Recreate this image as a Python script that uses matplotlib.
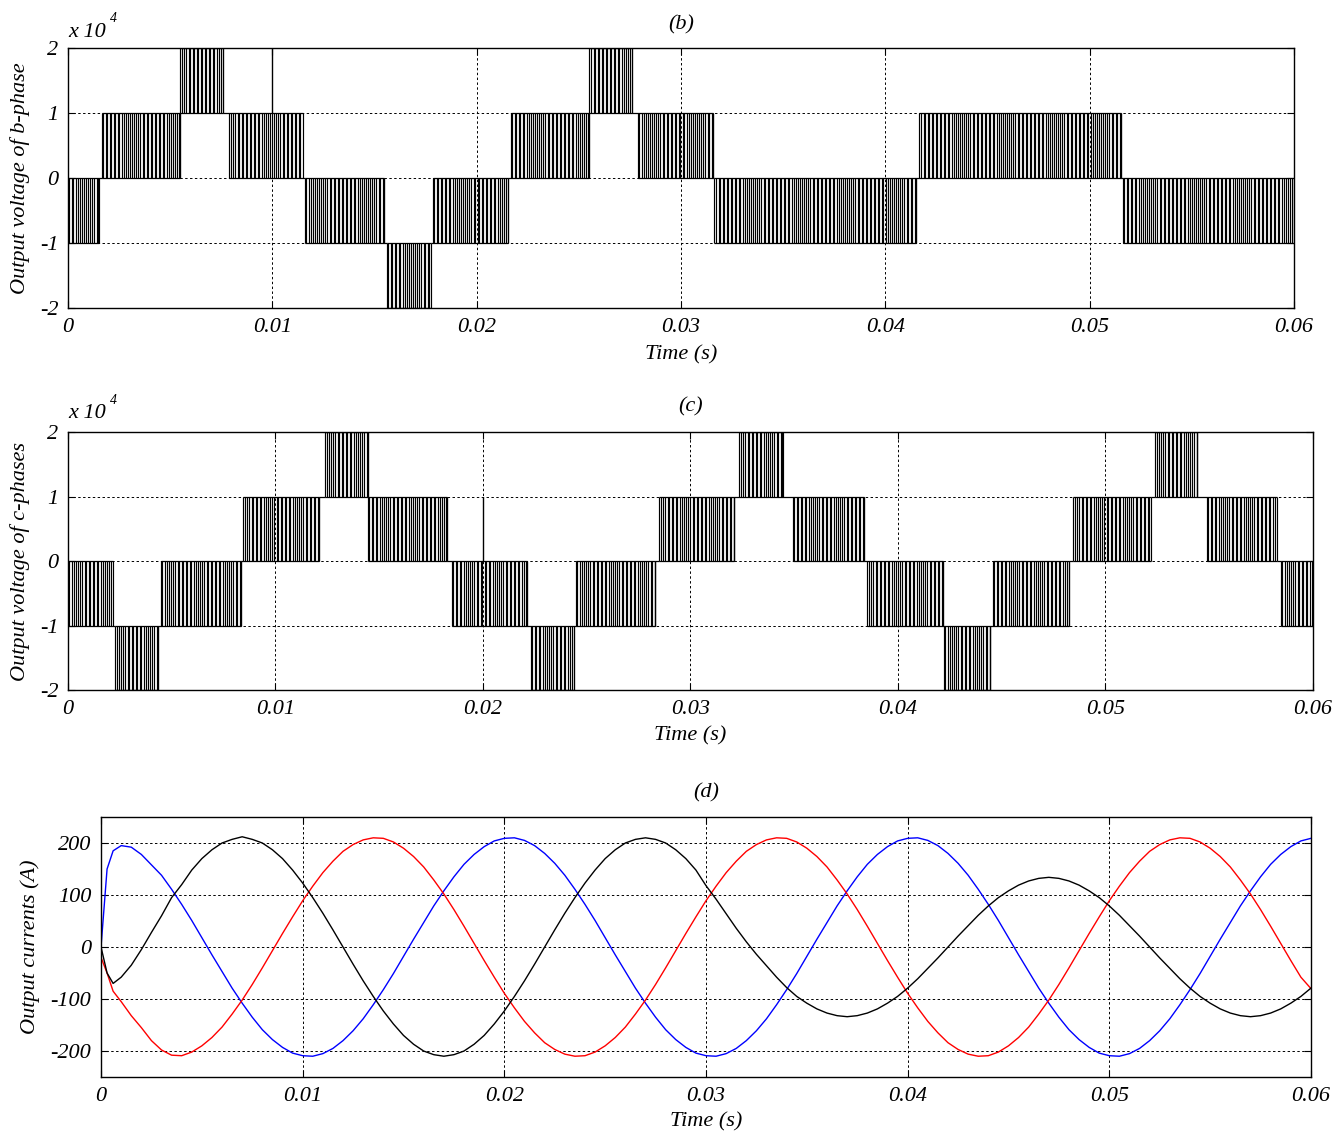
import numpy as np
import matplotlib
matplotlib.use('Agg')
import matplotlib.pyplot as plt

plt.rcParams['font.family'] = 'Liberation Serif'
plt.rcParams['font.style'] = 'italic'
plt.rcParams['font.size'] = 16

# voltage levels of the cascaded inverter (V)
# bands: (start time, end time, low level, high level) where the output switches
b_bands = [(0.0, 0.0015, -10000, 0), (0.00165, 0.0055, 0, 10000), (0.0055, 0.0076, 10000, 20000),
           (0.0079, 0.0115, 0, 10000), (0.0116, 0.01548, -10000, 0), (0.0156, 0.01777, -20000, -10000),
           (0.01785, 0.02155, -10000, 0), (0.02167, 0.02552, 0, 10000), (0.02552, 0.02759, 10000, 20000),
           (0.0279, 0.03155, 0, 10000), (0.03164, 0.04149, -10000, 0), (0.04167, 0.05153, 0, 10000),
           (0.05162, 0.06, -10000, 0)]
b_spikes = [(0.00997, 10000, 20000)]

c_bands = [(0.0, 0.00215, -10000, 0), (0.00227, 0.00435, -20000, -10000), (0.00448, 0.00832, -10000, 0),
           (0.00845, 0.01211, 0, 10000), (0.01239, 0.01444, 10000, 20000), (0.01444, 0.01828, 0, 10000),
           (0.01849, 0.02214, -10000, 0), (0.0223, 0.02439, -20000, -10000), (0.02448, 0.02829, -10000, 0),
           (0.0285, 0.03211, 0, 10000), (0.03235, 0.03444, 10000, 20000), (0.03492, 0.03836, 0, 10000),
           (0.03852, 0.04215, -10000, 0), (0.04222, 0.04443, -20000, -10000), (0.04456, 0.04826, -10000, 0),
           (0.04845, 0.05218, 0, 10000), (0.05239, 0.05442, 10000, 20000), (0.05488, 0.05828, 0, 10000),
           (0.05846, 0.06, -10000, 0)]
c_spikes = [(0.0200, 0, 10000)]

carrier_period = 0.0002
pulse_width = 0.00007

# output currents (A), sampled every 0.5 ms (plus the start-up transient)
t_cur = [0.0, 0.0003, 0.0006] + [k / 2000 for k in range(2, 121)]
i_red = [-20, -50, -85,
         -105, -132, -155, -180, -198, -208, -209, -202, -190, -174, -154, -129, -102, -72, -40, -7, 26, 58,
         89, 117, 143, 165, 184, 197, 206, 210, 209, 202, 190, 174, 154, 129, 102, 72, 40, 7, -26, -58,
         -89, -117, -143, -165, -184, -197, -206, -210, -209, -202, -190, -174, -154, -129, -102, -72, -40, -7, 26, 58,
         89, 117, 143, 165, 184, 197, 206, 210, 209, 202, 190, 174, 154, 129, 102, 72, 40, 7, -26, -58,
         -89, -117, -143, -165, -184, -197, -206, -210, -209, -202, -190, -174, -154, -129, -102, -72, -40, -7, 26, 58,
         89, 117, 143, 165, 184, 197, 206, 210, 209, 202, 190, 174, 154, 129, 102, 72, 40, 7, -26, -58,
         -80]
i_blue = [0, 150, 185,
          195, 192, 178, 158, 138, 111, 82, 51, 18, -15, -47, -79, -108, -135, -159, -178, -193, -204,
          -209, -210, -205, -195, -180, -161, -138, -111, -82, -51, -18, 15, 47, 79, 108, 135, 159, 178, 193, 204,
          209, 210, 205, 195, 180, 161, 138, 111, 82, 51, 18, -15, -47, -79, -108, -135, -159, -178, -193, -204,
          -209, -210, -205, -195, -180, -161, -138, -111, -82, -51, -18, 15, 47, 79, 108, 135, 159, 178, 193, 204,
          209, 210, 205, 195, 180, 161, 138, 111, 82, 51, 18, -15, -47, -79, -108, -135, -159, -178, -193, -204,
          -209, -210, -205, -195, -180, -161, -138, -111, -82, -51, -18, 15, 47, 79, 108, 135, 159, 178, 193, 204,
          209]
i_black = [0, -50, -70,
           -58, -35, -5, 28, 60, 95, 120, 148, 170, 187, 200, 207, 212, 207, 200, 187, 170, 148,
           123, 95, 65, 33, 0, -33, -65, -95, -123, -148, -170, -187, -200, -207, -210, -207, -200, -187, -170, -148,
           -123, -95, -65, -33, 0, 33, 65, 95, 123, 148, 170, 187, 200, 207, 210, 207, 200, 187, 170, 148,
           118, 92, 64, 36, 10, -14, -36, -58, -78, -95, -108, -119, -127, -132, -134, -132, -127, -119, -108, -95,
           -79, -61, -41, -21, 0, 21, 41, 61, 79, 95, 108, 119, 127, 132, 134, 132, 127, 119, 108, 95,
           79, 61, 41, 21, 0, -21, -41, -61, -79, -95, -108, -119, -127, -132, -134, -132, -127, -119, -108, -95,
           -79]

x_ticks = [0, 0.01, 0.02, 0.03, 0.04, 0.05, 0.06]
x_labels = ['0', '0.01', '0.02', '0.03', '0.04', '0.05', '0.06']
v_ticks = [-20000, -10000, 0, 10000, 20000]
v_labels = ['-2', '-1', '0', '1', '2']
i_ticks = [-200, -100, 0, 100, 200]
i_labels = ['-200', '-100', '0', '100', '200']


def draw_pwm(ax, bands, spikes):
    for k, (s, e, lo, hi) in enumerate(bands):
        starts = np.arange(s, e - 1e-9, carrier_period)
        edges = np.concatenate([starts, np.minimum(starts + pulse_width, e), [e]])
        ax.vlines(edges, lo, hi, color='k', lw=0.85)
        ax.hlines([lo, hi], s, e, color='k', lw=0.9)
        if k + 1 < len(bands):
            ns, ne, nlo, nhi = bands[k + 1]
            level = ({lo, hi} & {nlo, nhi}).pop()
            ax.hlines(level, e, ns, color='k', lw=0.9)
    for t, lo, hi in spikes:
        ax.vlines(t, lo, hi, color='k', lw=1.0)


def style(ax, yticks, ylabels, ylim):
    ax.set_xlim(0, 0.06)
    ax.set_ylim(*ylim)
    ax.set_xticks(x_ticks)
    ax.set_xticklabels(x_labels)
    ax.set_yticks(yticks)
    ax.set_yticklabels(ylabels)
    ax.tick_params(direction='in', top=True, right=True, length=5, width=0.8, pad=7)
    ax.grid(True, color='k', linestyle=(0, (2.5, 2.5)), linewidth=0.7)
    for sp in ax.spines.values():
        sp.set_linewidth(1.0)


fig = plt.figure(figsize=(13.38, 11.33), dpi=100)

# (b)
ax1 = fig.add_axes([0.0508, 0.7282, 0.9163, 0.2295])
draw_pwm(ax1, b_bands, b_spikes)
style(ax1, v_ticks, v_labels, (-20000, 20000))
ax1.text(0.5, 1 + 23 / 260, '(b)', transform=ax1.transAxes, ha='center', va='center')
ax1.text(0.0, 1.06, 'x 10', transform=ax1.transAxes, ha='left', va='center')
ax1.text(0.034, 1.115, '4', transform=ax1.transAxes, ha='left', va='center', fontsize=10)
ax1.set_xlabel('Time (s)')
ax1.xaxis.set_label_coords(0.5, -0.181)
ax1.xaxis.label.set_va('center')
ax1.set_ylabel('Output voltage of b-phase')
ax1.yaxis.set_label_coords(-0.039, 0.5)
ax1.yaxis.label.set_va('center')

# (c)
ax2 = fig.add_axes([0.0508, 0.391, 0.9305, 0.2277])
draw_pwm(ax2, c_bands, c_spikes)
style(ax2, v_ticks, v_labels, (-20000, 20000))
ax2.text(0.5, 1 + 25 / 258, '(c)', transform=ax2.transAxes, ha='center', va='center')
ax2.text(0.0, 1.07, 'x 10', transform=ax2.transAxes, ha='left', va='center')
ax2.text(0.034, 1.124, '4', transform=ax2.transAxes, ha='left', va='center', fontsize=10)
ax2.set_xlabel('Time (s)')
ax2.xaxis.set_label_coords(0.5, -0.178)
ax2.xaxis.label.set_va('center')
ax2.set_ylabel('Output voltage of c-phases')
ax2.yaxis.set_label_coords(-0.0386, 0.5)
ax2.yaxis.label.set_va('center')

# (d)
ax3 = fig.add_axes([0.0755, 0.0494, 0.9043, 0.2295])
ax3.plot(t_cur, i_blue, color='#0000ff', lw=1.0)
ax3.plot(t_cur, i_red, color='#ff0000', lw=1.0)
ax3.plot(t_cur, i_black, color='k', lw=1.0)
style(ax3, i_ticks, i_labels, (-250, 250))
ax3.text(0.5, 1 + 24 / 260, '(d)', transform=ax3.transAxes, ha='center', va='center')
ax3.set_xlabel('Time (s)')
ax3.xaxis.set_label_coords(0.5, -0.173)
ax3.xaxis.label.set_va('center')
ax3.set_ylabel('Output currents (A)')
ax3.yaxis.set_label_coords(-0.0587, 0.5)
ax3.yaxis.label.set_va('center')

fig.savefig('out.png', dpi=100)
